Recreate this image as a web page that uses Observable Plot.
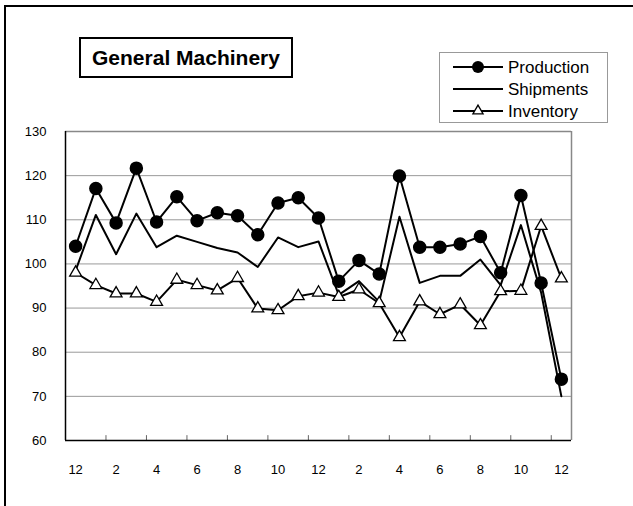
<!DOCTYPE html>
<html>
<head>
<meta charset="utf-8">
<script src="https://cdn.jsdelivr.net/npm/d3@7"></script>
<script src="https://cdn.jsdelivr.net/npm/@observablehq/plot@0.6"></script>
<style>
  html, body { margin: 0; padding: 0; background: #fff; overflow: hidden; }
  #wrap { position: relative; width: 633px; height: 506px; font-family: "Liberation Sans", Arial, sans-serif; }
  #frame { position: absolute; left: 4px; top: 5px; width: 700px; height: 600px; border: 2px solid #000; box-sizing: border-box; }
  #chart { position: absolute; left: 0; top: 0; }
  #title { position: absolute; left: 79px; top: 37px; width: 214px; height: 41px; border: 2px solid #000; box-sizing: border-box;
           font-weight: bold; font-size: 21px; display: flex; align-items: center; justify-content: center; background: #fff; }
  #legend { position: absolute; left: 439px; top: 52px; }
</style>
</head>
<body>
<div id="wrap">
  <div id="frame"></div>
  <div id="chart"></div>
  <div id="title">General Machinery</div>
  <svg id="legend" width="170" height="72"></svg>
</div>
<script>
const months = [12,1,2,3,4,5,6,7,8,9,10,11,12,1,2,3,4,5,6,7,8,9,10,11,12];
const production = [104.0,117.1,109.3,121.7,109.5,115.2,109.8,111.6,110.9,106.6,113.8,115.0,110.4,96.1,100.8,97.7,119.9,103.8,103.8,104.5,106.2,98.0,115.5,95.7,73.9];
const shipments  = [98.5,111.1,102.2,111.4,103.8,106.4,105.0,103.6,102.6,99.3,106.0,103.8,105.1,93.0,96.1,91.4,110.7,95.7,97.3,97.3,101.0,95.2,108.8,93.5,70.0];
const inventory  = [98.0,95.2,93.3,93.3,91.4,96.4,95.2,94.0,96.8,89.9,89.5,92.7,93.5,92.5,94.2,91.1,83.4,91.5,88.6,90.8,86.1,93.8,93.9,108.6,96.7];
const yTicks = [60,70,80,90,100,110,120,130];
const seriesNames = ["Production","Shipments","Inventory"];

const idx = months.map((m, i) => i);
const labelIdx = idx.filter(i => i % 2 === 0);
const boundaries = idx.slice(1).filter(i => i % 2 === 0).map(i => i - 0.5);

const plot = Plot.plot({
  width: 633,
  height: 506,
  marginLeft: 65,
  marginRight: 62,
  marginTop: 131,
  marginBottom: 66,
  style: { fontFamily: "'Liberation Sans', Arial, sans-serif", fontSize: "13px", color: "#000", background: "transparent" },
  x: { type: "linear", domain: [-0.5, months.length - 0.5] },
  y: { domain: [60, 130] },
  marks: [
    Plot.ruleY(yTicks.filter(v => v > 60 && v < 130), { stroke: "#999", strokeWidth: 1 }),
    Plot.ruleY([130], { stroke: "#888", strokeWidth: 1.5 }),
    Plot.ruleX([months.length - 0.5], { stroke: "#888", strokeWidth: 1.5 }),
    Plot.ruleX(boundaries, { y1: 60, y2: 61.1, stroke: "#666", strokeWidth: 1 }),
    Plot.lineY(production, { x: idx, y: production, stroke: "#000", strokeWidth: 2 }),
    Plot.lineY(shipments, { x: idx, y: shipments, stroke: "#000", strokeWidth: 2 }),
    Plot.lineY(inventory, { x: idx, y: inventory, stroke: "#000", strokeWidth: 2 }),
    Plot.dot(production, { x: idx, y: production, r: 6, fill: "#000", stroke: "#000" }),
    Plot.dot(inventory, { x: idx, y: inventory, r: 4.4, symbol: "triangle", fill: "#fff", stroke: "#000", strokeWidth: 1.3 }),
    Plot.ruleX([-0.5], { stroke: "#000", strokeWidth: 1.5 }),
    Plot.ruleY([60], { stroke: "#000", strokeWidth: 1.5 }),
    Plot.axisY({ ticks: yTicks, tickSize: 0, tickPadding: 19, label: null, fontSize: 13 }),
    Plot.axisX({ ticks: labelIdx, tickFormat: i => String(months[i]), tickSize: 0, tickPadding: 24, label: null, fontSize: 13 })
  ]
});
document.getElementById("chart").appendChild(plot);

// Legend
const leg = d3.select("#legend");
leg.append("rect").attr("x", 0.5).attr("y", 0.5).attr("width", 168).attr("height", 70)
   .attr("fill", "#fff").attr("stroke", "#999").attr("stroke-width", 1);
const rows = [15, 37, 59];
seriesNames.forEach((name, k) => {
  const y = rows[k];
  leg.append("line").attr("x1", 14).attr("x2", 64).attr("y1", y).attr("y2", y).attr("stroke", "#000").attr("stroke-width", 2);
  if (k === 0) leg.append("circle").attr("cx", 39).attr("cy", y).attr("r", 6).attr("fill", "#000");
  if (k === 2) leg.append("path").attr("transform", `translate(39,${y})`)
     .attr("d", d3.symbol(d3.symbolTriangle, 45)()).attr("fill", "#fff").attr("stroke", "#000").attr("stroke-width", 1.3);
  leg.append("text").attr("x", 69).attr("y", y).attr("dy", "0.35em").attr("font-size", 17)
     .attr("font-family", "'Liberation Sans', Arial, sans-serif").text(name);
});
</script>
</body>
</html>
